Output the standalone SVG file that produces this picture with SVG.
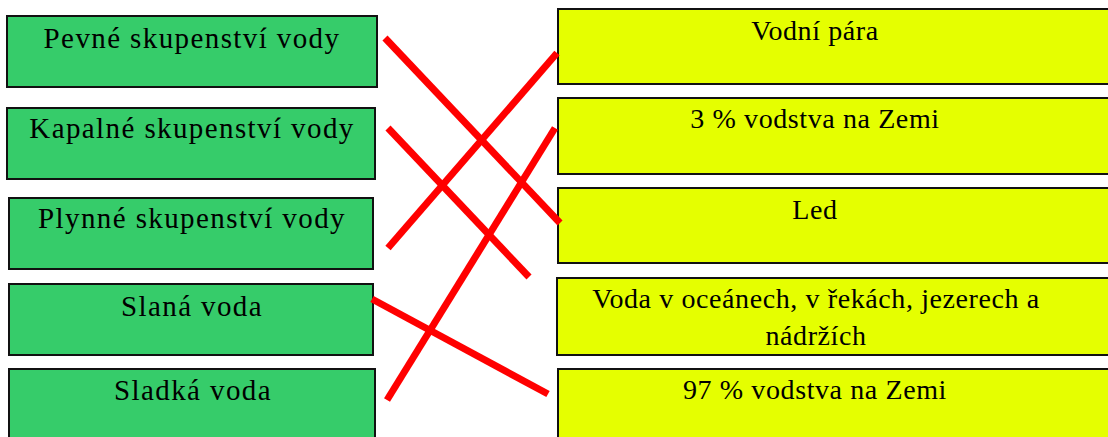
<svg xmlns="http://www.w3.org/2000/svg" width="1108" height="437" viewBox="0 0 1108 437">
  <style>
    .left rect { fill: #36cc6a; stroke: #111; stroke-width: 2; }
    .right rect { fill: #e5ff00; stroke: #111; stroke-width: 2; }
    text { font-family: "Liberation Serif", "Times New Roman", serif; fill: #000; text-anchor: middle; }
    .left text { font-size: 29px; letter-spacing: 1.4px; }
    .right text { font-size: 28px; letter-spacing: 0.6px; }
    .links line { stroke: #ff0000; stroke-width: 7; }
  </style>
  <rect width="1108" height="437" fill="#ffffff"/>

  <!-- left column: states and kinds of water -->
  <g id="pevne" class="left">
    <rect x="7" y="16" width="370" height="71"/>
    <text x="192" y="48">Pevné skupenství vody</text>
  </g>
  <g id="kapalne" class="left">
    <rect x="7" y="108" width="368" height="71"/>
    <text x="192" y="138">Kapalné skupenství vody</text>
  </g>
  <g id="plynne" class="left">
    <rect x="9" y="198" width="364" height="71"/>
    <text x="192" y="228">Plynné skupenství vody</text>
  </g>
  <g id="slana" class="left">
    <rect x="9" y="284" width="364" height="71"/>
    <text x="192" y="316">Slaná voda</text>
  </g>
  <g id="sladka" class="left">
    <rect x="9" y="369" width="366" height="80"/>
    <text x="193" y="400">Sladká voda</text>
  </g>

  <!-- right column: descriptions -->
  <g id="para" class="right">
    <rect x="558" y="9" width="560" height="75"/>
    <text x="815" y="40">Vodní pára</text>
  </g>
  <g id="tri-procenta" class="right">
    <rect x="558" y="98" width="560" height="76"/>
    <text x="815" y="128">3 % vodstva na Zemi</text>
  </g>
  <g id="led" class="right">
    <rect x="558" y="188" width="560" height="75"/>
    <text x="815" y="219">Led</text>
  </g>
  <g id="oceany" class="right">
    <rect x="557" y="278" width="560" height="77"/>
    <text x="816" y="308">Voda v oceánech, v řekách, jezerech a</text>
    <text x="816" y="345">nádržích</text>
  </g>
  <g id="devadesat-sedm" class="right">
    <rect x="558" y="369" width="560" height="80"/>
    <text x="815" y="399">97 % vodstva na Zemi</text>
  </g>

  <!-- matching lines -->
  <g id="links" class="links">
    <line x1="385" y1="38" x2="560" y2="223"/>
    <line x1="557" y1="53" x2="388" y2="248"/>
    <line x1="388" y1="128" x2="529" y2="277"/>
    <line x1="555" y1="128" x2="387" y2="400"/>
    <line x1="372" y1="299" x2="548" y2="394"/>
  </g>
</svg>
